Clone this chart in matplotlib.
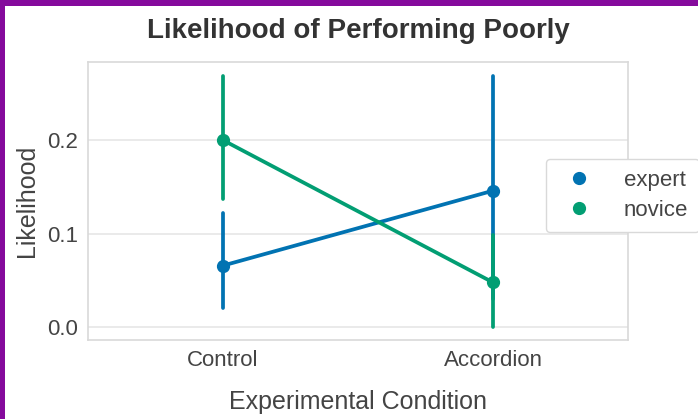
import matplotlib
matplotlib.use("Agg")
import matplotlib.pyplot as plt
from matplotlib.patches import Rectangle
from matplotlib.lines import Line2D

plt.rcParams['font.family'] = ['Liberation Sans', 'DejaVu Sans']

categories = ["Control", "Accordion"]
groups = ["expert", "novice"]
means = {"expert": [0.066, 0.146], "novice": [0.200, 0.048]}
ci_low = {"expert": [0.021, 0.030], "novice": [0.137, 0.000]}
ci_high = {"expert": [0.122, 0.269], "novice": [0.269, 0.099]}
colors = {"expert": "#0173b2", "novice": "#029e73"}
yticks = [0.0, 0.1, 0.2]

fig = plt.figure(figsize=(6.98, 4.19), dpi=100)
fig.patch.set_facecolor("#850a9c")
fig.add_artist(Rectangle((5/698, 0), 1 - 5/698, (419 - 6)/419, transform=fig.transFigure,
                         facecolor="white", edgecolor="none", zorder=0))

ax = fig.add_axes([88/698, (419-340)/419, (628-88)/698, (340-62)/419])
ax.set_facecolor("white")
for s in ax.spines.values():
    s.set_color("#d9d9d9")
    s.set_linewidth(1.2)

x = list(range(len(categories)))
for g in groups:
    for i in x:
        ax.plot([i, i], [ci_low[g][i], ci_high[g][i]], color=colors[g], lw=2.7,
                solid_capstyle="round", zorder=3)
    ax.plot(x, means[g], color=colors[g], lw=2.7, marker="o", markersize=8.5, zorder=4)

ax.set_xlim(-0.5, 1.5)
ax.set_ylim(-0.0135, 0.2835)
ax.set_xticks(x)
ax.set_xticklabels(categories)
ax.set_yticks(yticks)
ax.set_yticklabels([f"{v:.1f}" for v in yticks])
ax.yaxis.grid(True, color="#e6e6e6", lw=1.2)
ax.set_axisbelow(True)
ax.tick_params(axis="both", length=0, labelsize=16, labelcolor="#444444", pad=7)

ax.set_xlabel("Experimental Condition", fontsize=18, color="#444444", labelpad=14)
ax.set_ylabel("Likelihood", fontsize=18, color="#444444", labelpad=6)
ax.set_title("Likelihood of Performing Poorly", fontsize=20, fontweight="bold",
             color="#333333", pad=17)

handles = [Line2D([], [], color=colors[g], marker="o", linestyle="none", markersize=8.5)
           for g in groups]
leg = ax.legend(handles, groups, loc="center left", bbox_to_anchor=(0.848, 0.52),
                fontsize=16, frameon=True, borderpad=0.5, handletextpad=1.0,
                labelspacing=0.4, borderaxespad=0, fancybox=True)
leg.get_frame().set_edgecolor("#d9d9d9")
leg.get_frame().set_facecolor("white")
leg.get_frame().set_alpha(1)
for t in leg.get_texts():
    t.set_color("#444444")

fig.savefig("out.png", dpi=100, facecolor=fig.get_facecolor())
